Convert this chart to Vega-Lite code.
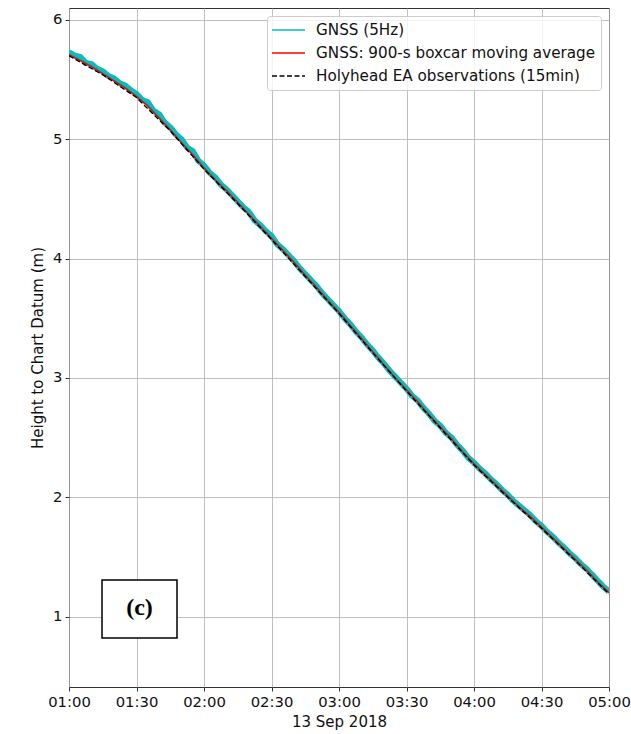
{
  "$schema": "https://vega.github.io/schema/vega-lite/v6.json",
  "width": 540,
  "height": 679,
  "autosize": {"type": "none"},
  "padding": {"left": 69, "top": 8, "right": 22, "bottom": 47},
  "config": {
    "font": "DejaVu Sans",
    "view": {"stroke": "#333333", "strokeWidth": 1},
    "axis": {
      "labelFont": "DejaVu Sans", "labelFontSize": 14.8, "labelColor": "#111111",
      "titleFont": "DejaVu Sans", "titleFontSize": 15, "titleFontWeight": "normal", "titleColor": "#111111",
      "tickColor": "#333333", "tickSize": 4, "tickWidth": 1, "domain": false,
      "gridColor": "#b0b0b0", "gridWidth": 0.8, "labelPadding": 3
    },
    "legend": {
      "orient": "top-right", "offset": 8,
      "fillColor": "rgba(255,255,255,0.8)", "strokeColor": "#cccccc", "cornerRadius": 3, "padding": 5,
      "symbolType": "M-2,0H2", "symbolSize": 272, "symbolStrokeWidth": 1.5, "symbolOffset": 7.5, "labelOffset": 18.5,
      "labelFont": "DejaVu Sans", "labelFontSize": 15.2, "labelColor": "#111111", "labelLimit": 400, "rowPadding": 5
    }
  },
  "datasets": {
    "gnss": [
      {"t":"2018-09-13T01:00:00","h":5.73,"s":"GNSS (5Hz)"},{"t":"2018-09-13T01:02:30","h":5.70,"s":"GNSS (5Hz)"},{"t":"2018-09-13T01:05:00","h":5.69,"s":"GNSS (5Hz)"},{"t":"2018-09-13T01:07:30","h":5.64,"s":"GNSS (5Hz)"},
      {"t":"2018-09-13T01:10:00","h":5.63,"s":"GNSS (5Hz)"},{"t":"2018-09-13T01:12:30","h":5.59,"s":"GNSS (5Hz)"},{"t":"2018-09-13T01:15:00","h":5.57,"s":"GNSS (5Hz)"},{"t":"2018-09-13T01:17:30","h":5.53,"s":"GNSS (5Hz)"},
      {"t":"2018-09-13T01:20:00","h":5.51,"s":"GNSS (5Hz)"},{"t":"2018-09-13T01:22:30","h":5.47,"s":"GNSS (5Hz)"},{"t":"2018-09-13T01:25:00","h":5.45,"s":"GNSS (5Hz)"},{"t":"2018-09-13T01:27:30","h":5.41,"s":"GNSS (5Hz)"},
      {"t":"2018-09-13T01:30:00","h":5.38,"s":"GNSS (5Hz)"},{"t":"2018-09-13T01:32:30","h":5.33,"s":"GNSS (5Hz)"},{"t":"2018-09-13T01:35:00","h":5.31,"s":"GNSS (5Hz)"},{"t":"2018-09-13T01:37:30","h":5.24,"s":"GNSS (5Hz)"},
      {"t":"2018-09-13T01:40:00","h":5.21,"s":"GNSS (5Hz)"},{"t":"2018-09-13T01:42:30","h":5.14,"s":"GNSS (5Hz)"},{"t":"2018-09-13T01:45:00","h":5.10,"s":"GNSS (5Hz)"},{"t":"2018-09-13T01:47:30","h":5.04,"s":"GNSS (5Hz)"},
      {"t":"2018-09-13T01:50:00","h":5.00,"s":"GNSS (5Hz)"},{"t":"2018-09-13T01:52:30","h":4.93,"s":"GNSS (5Hz)"},{"t":"2018-09-13T01:55:00","h":4.90,"s":"GNSS (5Hz)"},{"t":"2018-09-13T01:57:30","h":4.82,"s":"GNSS (5Hz)"},
      {"t":"2018-09-13T02:00:00","h":4.78,"s":"GNSS (5Hz)"},{"t":"2018-09-13T02:02:30","h":4.72,"s":"GNSS (5Hz)"},{"t":"2018-09-13T02:05:00","h":4.68,"s":"GNSS (5Hz)"},{"t":"2018-09-13T02:07:30","h":4.62,"s":"GNSS (5Hz)"},
      {"t":"2018-09-13T02:10:00","h":4.58,"s":"GNSS (5Hz)"},{"t":"2018-09-13T02:12:30","h":4.53,"s":"GNSS (5Hz)"},{"t":"2018-09-13T02:15:00","h":4.48,"s":"GNSS (5Hz)"},{"t":"2018-09-13T02:17:30","h":4.43,"s":"GNSS (5Hz)"},
      {"t":"2018-09-13T02:20:00","h":4.39,"s":"GNSS (5Hz)"},{"t":"2018-09-13T02:22:30","h":4.32,"s":"GNSS (5Hz)"},{"t":"2018-09-13T02:25:00","h":4.28,"s":"GNSS (5Hz)"},{"t":"2018-09-13T02:27:30","h":4.23,"s":"GNSS (5Hz)"},
      {"t":"2018-09-13T02:30:00","h":4.19,"s":"GNSS (5Hz)"},{"t":"2018-09-13T02:32:30","h":4.12,"s":"GNSS (5Hz)"},{"t":"2018-09-13T02:35:00","h":4.08,"s":"GNSS (5Hz)"},{"t":"2018-09-13T02:37:30","h":4.03,"s":"GNSS (5Hz)"},
      {"t":"2018-09-13T02:40:00","h":3.98,"s":"GNSS (5Hz)"},{"t":"2018-09-13T02:42:30","h":3.92,"s":"GNSS (5Hz)"},{"t":"2018-09-13T02:45:00","h":3.87,"s":"GNSS (5Hz)"},{"t":"2018-09-13T02:47:30","h":3.82,"s":"GNSS (5Hz)"},
      {"t":"2018-09-13T02:50:00","h":3.77,"s":"GNSS (5Hz)"},{"t":"2018-09-13T02:52:30","h":3.71,"s":"GNSS (5Hz)"},{"t":"2018-09-13T02:55:00","h":3.66,"s":"GNSS (5Hz)"},{"t":"2018-09-13T02:57:30","h":3.61,"s":"GNSS (5Hz)"},
      {"t":"2018-09-13T03:00:00","h":3.56,"s":"GNSS (5Hz)"},{"t":"2018-09-13T03:02:30","h":3.50,"s":"GNSS (5Hz)"},{"t":"2018-09-13T03:05:00","h":3.45,"s":"GNSS (5Hz)"},{"t":"2018-09-13T03:07:30","h":3.39,"s":"GNSS (5Hz)"},
      {"t":"2018-09-13T03:10:00","h":3.34,"s":"GNSS (5Hz)"},{"t":"2018-09-13T03:12:30","h":3.28,"s":"GNSS (5Hz)"},{"t":"2018-09-13T03:15:00","h":3.23,"s":"GNSS (5Hz)"},{"t":"2018-09-13T03:17:30","h":3.17,"s":"GNSS (5Hz)"},
      {"t":"2018-09-13T03:20:00","h":3.12,"s":"GNSS (5Hz)"},{"t":"2018-09-13T03:22:30","h":3.06,"s":"GNSS (5Hz)"},{"t":"2018-09-13T03:25:00","h":3.01,"s":"GNSS (5Hz)"},{"t":"2018-09-13T03:27:30","h":2.96,"s":"GNSS (5Hz)"},
      {"t":"2018-09-13T03:30:00","h":2.91,"s":"GNSS (5Hz)"},{"t":"2018-09-13T03:32:30","h":2.85,"s":"GNSS (5Hz)"},{"t":"2018-09-13T03:35:00","h":2.81,"s":"GNSS (5Hz)"},{"t":"2018-09-13T03:37:30","h":2.75,"s":"GNSS (5Hz)"},
      {"t":"2018-09-13T03:40:00","h":2.70,"s":"GNSS (5Hz)"},{"t":"2018-09-13T03:42:30","h":2.64,"s":"GNSS (5Hz)"},{"t":"2018-09-13T03:45:00","h":2.60,"s":"GNSS (5Hz)"},{"t":"2018-09-13T03:47:30","h":2.54,"s":"GNSS (5Hz)"},
      {"t":"2018-09-13T03:50:00","h":2.50,"s":"GNSS (5Hz)"},{"t":"2018-09-13T03:52:30","h":2.44,"s":"GNSS (5Hz)"},{"t":"2018-09-13T03:55:00","h":2.39,"s":"GNSS (5Hz)"},{"t":"2018-09-13T03:57:30","h":2.33,"s":"GNSS (5Hz)"},
      {"t":"2018-09-13T04:00:00","h":2.29,"s":"GNSS (5Hz)"},{"t":"2018-09-13T04:02:30","h":2.24,"s":"GNSS (5Hz)"},{"t":"2018-09-13T04:05:00","h":2.20,"s":"GNSS (5Hz)"},{"t":"2018-09-13T04:07:30","h":2.15,"s":"GNSS (5Hz)"},
      {"t":"2018-09-13T04:10:00","h":2.11,"s":"GNSS (5Hz)"},{"t":"2018-09-13T04:12:30","h":2.06,"s":"GNSS (5Hz)"},{"t":"2018-09-13T04:15:00","h":2.02,"s":"GNSS (5Hz)"},{"t":"2018-09-13T04:17:30","h":1.97,"s":"GNSS (5Hz)"},
      {"t":"2018-09-13T04:20:00","h":1.93,"s":"GNSS (5Hz)"},{"t":"2018-09-13T04:22:30","h":1.89,"s":"GNSS (5Hz)"},{"t":"2018-09-13T04:25:00","h":1.85,"s":"GNSS (5Hz)"},{"t":"2018-09-13T04:27:30","h":1.80,"s":"GNSS (5Hz)"},
      {"t":"2018-09-13T04:30:00","h":1.76,"s":"GNSS (5Hz)"},{"t":"2018-09-13T04:32:30","h":1.71,"s":"GNSS (5Hz)"},{"t":"2018-09-13T04:35:00","h":1.67,"s":"GNSS (5Hz)"},{"t":"2018-09-13T04:37:30","h":1.62,"s":"GNSS (5Hz)"},
      {"t":"2018-09-13T04:40:00","h":1.58,"s":"GNSS (5Hz)"},{"t":"2018-09-13T04:42:30","h":1.53,"s":"GNSS (5Hz)"},{"t":"2018-09-13T04:45:00","h":1.49,"s":"GNSS (5Hz)"},{"t":"2018-09-13T04:47:30","h":1.44,"s":"GNSS (5Hz)"},
      {"t":"2018-09-13T04:50:00","h":1.40,"s":"GNSS (5Hz)"},{"t":"2018-09-13T04:52:30","h":1.35,"s":"GNSS (5Hz)"},{"t":"2018-09-13T04:55:00","h":1.30,"s":"GNSS (5Hz)"},{"t":"2018-09-13T04:57:30","h":1.25,"s":"GNSS (5Hz)"},
      {"t":"2018-09-13T05:00:00","h":1.21,"s":"GNSS (5Hz)"}
    ],
    "avg": [
      {"t":"2018-09-13T01:00:00","h":5.71,"s":"GNSS: 900-s boxcar moving average"},{"t":"2018-09-13T01:05:00","h":5.66,"s":"GNSS: 900-s boxcar moving average"},{"t":"2018-09-13T01:10:00","h":5.61,"s":"GNSS: 900-s boxcar moving average"},{"t":"2018-09-13T01:15:00","h":5.55,"s":"GNSS: 900-s boxcar moving average"},
      {"t":"2018-09-13T01:20:00","h":5.49,"s":"GNSS: 900-s boxcar moving average"},{"t":"2018-09-13T01:25:00","h":5.43,"s":"GNSS: 900-s boxcar moving average"},{"t":"2018-09-13T01:30:00","h":5.36,"s":"GNSS: 900-s boxcar moving average"},{"t":"2018-09-13T01:35:00","h":5.28,"s":"GNSS: 900-s boxcar moving average"},
      {"t":"2018-09-13T01:40:00","h":5.18,"s":"GNSS: 900-s boxcar moving average"},{"t":"2018-09-13T01:45:00","h":5.08,"s":"GNSS: 900-s boxcar moving average"},{"t":"2018-09-13T01:50:00","h":4.97,"s":"GNSS: 900-s boxcar moving average"},{"t":"2018-09-13T01:55:00","h":4.87,"s":"GNSS: 900-s boxcar moving average"},
      {"t":"2018-09-13T02:00:00","h":4.76,"s":"GNSS: 900-s boxcar moving average"},{"t":"2018-09-13T02:05:00","h":4.66,"s":"GNSS: 900-s boxcar moving average"},{"t":"2018-09-13T02:10:00","h":4.57,"s":"GNSS: 900-s boxcar moving average"},{"t":"2018-09-13T02:15:00","h":4.47,"s":"GNSS: 900-s boxcar moving average"},
      {"t":"2018-09-13T02:20:00","h":4.37,"s":"GNSS: 900-s boxcar moving average"},{"t":"2018-09-13T02:25:00","h":4.27,"s":"GNSS: 900-s boxcar moving average"},{"t":"2018-09-13T02:30:00","h":4.17,"s":"GNSS: 900-s boxcar moving average"},{"t":"2018-09-13T02:35:00","h":4.07,"s":"GNSS: 900-s boxcar moving average"},
      {"t":"2018-09-13T02:40:00","h":3.97,"s":"GNSS: 900-s boxcar moving average"},{"t":"2018-09-13T02:45:00","h":3.86,"s":"GNSS: 900-s boxcar moving average"},{"t":"2018-09-13T02:50:00","h":3.76,"s":"GNSS: 900-s boxcar moving average"},{"t":"2018-09-13T02:55:00","h":3.65,"s":"GNSS: 900-s boxcar moving average"},
      {"t":"2018-09-13T03:00:00","h":3.55,"s":"GNSS: 900-s boxcar moving average"},{"t":"2018-09-13T03:05:00","h":3.44,"s":"GNSS: 900-s boxcar moving average"},{"t":"2018-09-13T03:10:00","h":3.33,"s":"GNSS: 900-s boxcar moving average"},{"t":"2018-09-13T03:15:00","h":3.22,"s":"GNSS: 900-s boxcar moving average"},
      {"t":"2018-09-13T03:20:00","h":3.11,"s":"GNSS: 900-s boxcar moving average"},{"t":"2018-09-13T03:25:00","h":3.00,"s":"GNSS: 900-s boxcar moving average"},{"t":"2018-09-13T03:30:00","h":2.90,"s":"GNSS: 900-s boxcar moving average"},{"t":"2018-09-13T03:35:00","h":2.80,"s":"GNSS: 900-s boxcar moving average"},
      {"t":"2018-09-13T03:40:00","h":2.69,"s":"GNSS: 900-s boxcar moving average"},{"t":"2018-09-13T03:45:00","h":2.59,"s":"GNSS: 900-s boxcar moving average"},{"t":"2018-09-13T03:50:00","h":2.49,"s":"GNSS: 900-s boxcar moving average"},{"t":"2018-09-13T03:55:00","h":2.38,"s":"GNSS: 900-s boxcar moving average"},
      {"t":"2018-09-13T04:00:00","h":2.28,"s":"GNSS: 900-s boxcar moving average"},{"t":"2018-09-13T04:05:00","h":2.19,"s":"GNSS: 900-s boxcar moving average"},{"t":"2018-09-13T04:10:00","h":2.10,"s":"GNSS: 900-s boxcar moving average"},{"t":"2018-09-13T04:15:00","h":2.01,"s":"GNSS: 900-s boxcar moving average"},
      {"t":"2018-09-13T04:20:00","h":1.92,"s":"GNSS: 900-s boxcar moving average"},{"t":"2018-09-13T04:25:00","h":1.84,"s":"GNSS: 900-s boxcar moving average"},{"t":"2018-09-13T04:30:00","h":1.75,"s":"GNSS: 900-s boxcar moving average"},{"t":"2018-09-13T04:35:00","h":1.66,"s":"GNSS: 900-s boxcar moving average"},
      {"t":"2018-09-13T04:40:00","h":1.57,"s":"GNSS: 900-s boxcar moving average"},{"t":"2018-09-13T04:45:00","h":1.48,"s":"GNSS: 900-s boxcar moving average"},{"t":"2018-09-13T04:50:00","h":1.39,"s":"GNSS: 900-s boxcar moving average"},{"t":"2018-09-13T04:55:00","h":1.29,"s":"GNSS: 900-s boxcar moving average"},
      {"t":"2018-09-13T05:00:00","h":1.20,"s":"GNSS: 900-s boxcar moving average"}
    ],
    "ea": [
      {"t":"2018-09-13T01:00:00","h":5.70,"s":"Holyhead EA observations (15min)"},{"t":"2018-09-13T01:15:00","h":5.54,"s":"Holyhead EA observations (15min)"},
      {"t":"2018-09-13T01:30:00","h":5.35,"s":"Holyhead EA observations (15min)"},{"t":"2018-09-13T01:45:00","h":5.07,"s":"Holyhead EA observations (15min)"},
      {"t":"2018-09-13T02:00:00","h":4.75,"s":"Holyhead EA observations (15min)"},{"t":"2018-09-13T02:15:00","h":4.46,"s":"Holyhead EA observations (15min)"},
      {"t":"2018-09-13T02:30:00","h":4.16,"s":"Holyhead EA observations (15min)"},{"t":"2018-09-13T02:45:00","h":3.85,"s":"Holyhead EA observations (15min)"},
      {"t":"2018-09-13T03:00:00","h":3.54,"s":"Holyhead EA observations (15min)"},{"t":"2018-09-13T03:15:00","h":3.21,"s":"Holyhead EA observations (15min)"},
      {"t":"2018-09-13T03:30:00","h":2.89,"s":"Holyhead EA observations (15min)"},{"t":"2018-09-13T03:45:00","h":2.58,"s":"Holyhead EA observations (15min)"},
      {"t":"2018-09-13T04:00:00","h":2.27,"s":"Holyhead EA observations (15min)"},{"t":"2018-09-13T04:15:00","h":2.00,"s":"Holyhead EA observations (15min)"},
      {"t":"2018-09-13T04:30:00","h":1.74,"s":"Holyhead EA observations (15min)"},{"t":"2018-09-13T04:45:00","h":1.47,"s":"Holyhead EA observations (15min)"},
      {"t":"2018-09-13T05:00:00","h":1.19,"s":"Holyhead EA observations (15min)"}
    ],
    "note": [
      {"label": "(c)", "x1": "2018-09-13T01:14:40", "x2": "2018-09-13T01:48:00", "xm": "2018-09-13T01:31:20", "y1": 1.306, "y2": 0.82, "ym": 1.07}
    ]
  },
  "layer": [
    {
      "data": {"name": "gnss"},
      "mark": {"type": "line", "strokeWidth": 6, "clip": true},
      "encoding": {
        "x": {
          "field": "t", "type": "temporal", "title": "13 Sep 2018",
          "scale": {"domain": [{"year": 2018, "month": 9, "date": 13, "hours": 1}, {"year": 2018, "month": 9, "date": 13, "hours": 5}]},
          "axis": {"format": "%H:%M", "tickCount": 8, "labelFlush": false, "titlePadding": 6}
        },
        "y": {
          "field": "h", "type": "quantitative", "title": "Height to Chart Datum (m)",
          "scale": {"domain": [0.41, 6.1], "nice": false, "zero": false},
          "axis": {"values": [1, 2, 3, 4, 5, 6], "format": "d", "titlePadding": 7}
        },
        "color": {
          "field": "s", "type": "nominal", "title": null,
          "scale": {"domain": ["GNSS (5Hz)", "GNSS: 900-s boxcar moving average", "Holyhead EA observations (15min)"], "range": ["#00bfbf", "#ff0000", "#000000"]}
        },
        "strokeDash": {
          "field": "s", "type": "nominal", "title": null,
          "scale": {"domain": ["GNSS (5Hz)", "GNSS: 900-s boxcar moving average", "Holyhead EA observations (15min)"], "range": [[1, 0], [1, 0], [5, 2.5]]}
        }
      }
    },
    {
      "data": {"name": "avg"},
      "mark": {"type": "line", "strokeWidth": 1.5, "clip": true},
      "encoding": {
        "x": {"field": "t", "type": "temporal"},
        "y": {"field": "h", "type": "quantitative"},
        "color": {"field": "s", "type": "nominal", "title": null},
        "strokeDash": {"field": "s", "type": "nominal", "title": null}
      }
    },
    {
      "data": {"name": "ea"},
      "mark": {"type": "line", "strokeWidth": 1.3, "clip": true},
      "encoding": {
        "x": {"field": "t", "type": "temporal"},
        "y": {"field": "h", "type": "quantitative"},
        "color": {"field": "s", "type": "nominal", "title": null},
        "strokeDash": {"field": "s", "type": "nominal", "title": null}
      }
    },
    {
      "data": {"name": "note"},
      "mark": {"type": "rect", "fill": "white", "stroke": "black", "strokeWidth": 1.5},
      "encoding": {
        "x": {"field": "x1", "type": "temporal"},
        "x2": {"field": "x2"},
        "y": {"field": "y1", "type": "quantitative"},
        "y2": {"field": "y2"}
      }
    },
    {
      "data": {"name": "note"},
      "mark": {"type": "text", "font": "Liberation Serif", "fontWeight": "bold", "fontSize": 24, "fill": "black", "align": "center", "baseline": "middle"},
      "encoding": {
        "x": {"field": "xm", "type": "temporal"},
        "y": {"field": "ym", "type": "quantitative"},
        "text": {"field": "label"}
      }
    }
  ]
}
